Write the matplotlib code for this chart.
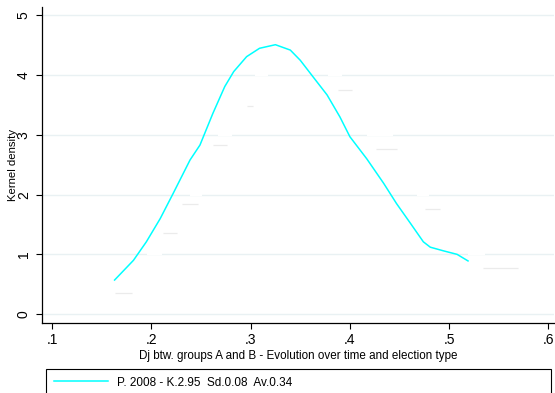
import matplotlib

matplotlib.use("Agg")
import matplotlib.pyplot as plt

plt.rcParams["font.family"] = ["Liberation Sans", "DejaVu Sans"]

# kernel density curve
dj = [0.163, 0.182, 0.195, 0.209, 0.222, 0.239, 0.249, 0.262, 0.274, 0.283,
      0.296, 0.309, 0.325, 0.340, 0.350, 0.363, 0.377, 0.390, 0.400, 0.417,
      0.434, 0.447, 0.461, 0.474, 0.481, 0.494, 0.508, 0.519]
dens = [0.57, 0.90, 1.21, 1.60, 2.02, 2.58, 2.83, 3.36, 3.81, 4.06,
        4.31, 4.45, 4.51, 4.42, 4.25, 3.97, 3.67, 3.30, 2.97, 2.60,
        2.19, 1.85, 1.52, 1.21, 1.12, 1.06, 1.00, 0.89]

# faint leftover marks (white series) visible behind the curve
seg_lo = [0.163, 0.212, 0.231, 0.262, 0.296, 0.388, 0.426, 0.476, 0.534]
seg_hi = [0.181, 0.226, 0.247, 0.276, 0.302, 0.402, 0.447, 0.491, 0.569]
seg_y = [0.36, 1.36, 1.84, 2.83, 3.48, 3.76, 2.76, 1.76, 0.77]

gap_y = [1, 2, 2, 1, 3, 3, 4, 4]
gap_lo = [0.196, 0.239, 0.468, 0.519, 0.267, 0.417, 0.304, 0.378]
gap_hi = [0.211, 0.251, 0.480, 0.536, 0.281, 0.443, 0.318, 0.392]

xticks = [0.1, 0.2, 0.3, 0.4, 0.5, 0.6]
xticklabels = [".1", ".2", ".3", ".4", ".5", ".6"]
yticks = [0, 1, 2, 3, 4, 5]

legend_label = "P. 2008 - K.2.95  Sd.0.08  Av.0.34"

fig = plt.figure(figsize=(5.55, 3.93), dpi=100)
ax = fig.add_axes([0.0757, 0.178, 0.9223, 0.804])

ax.set_xlim(0.0899, 0.6055)
ax.set_ylim(-0.15, 5.14)

for y in yticks:
    ax.axhline(y, color="#e9f1f3", linewidth=1.0, zorder=0)
ax.hlines(gap_y, gap_lo, gap_hi, color="white", linewidth=1.6, zorder=1)
ax.hlines(seg_y, seg_lo, seg_hi, color="#ebebeb", linewidth=0.9, zorder=1)

ax.plot(dj, dens, color="#00ffff", linewidth=1.1, zorder=3,
        solid_joinstyle="round", label=legend_label)

ax.set_xticks(xticks)
ax.set_xticklabels(xticklabels, fontsize=10)
ax.set_yticks(yticks)
ax.set_yticklabels([str(v) for v in yticks], fontsize=10, rotation=90,
                   va="center")
ax.tick_params(axis="x", length=4, width=0.8, pad=3.5, direction="out")
ax.tick_params(axis="y", length=4.5, width=0.8, pad=3.5, direction="out")

ax.set_xlabel("Dj btw. groups A and B - Evolution over time and election type",
              fontsize=8.4, labelpad=2)
ax.set_ylabel("Kernel density", fontsize=8.2, labelpad=-1)

for s in ("top", "right"):
    ax.spines[s].set_visible(False)
for s in ("left", "bottom"):
    ax.spines[s].set_color("black")
    ax.spines[s].set_linewidth(0.9)

fig.legend(loc="upper left", bbox_to_anchor=(0.083, 0.0, 0.91, 0.0615),
           mode="expand", fontsize=8.5, frameon=True, fancybox=False,
           edgecolor="black", framealpha=1, handlelength=4.6,
           handletextpad=0.8, borderpad=0.65, borderaxespad=0)
fig.legends[0].get_frame().set_linewidth(0.8)

fig.savefig("out.png", dpi=100)
